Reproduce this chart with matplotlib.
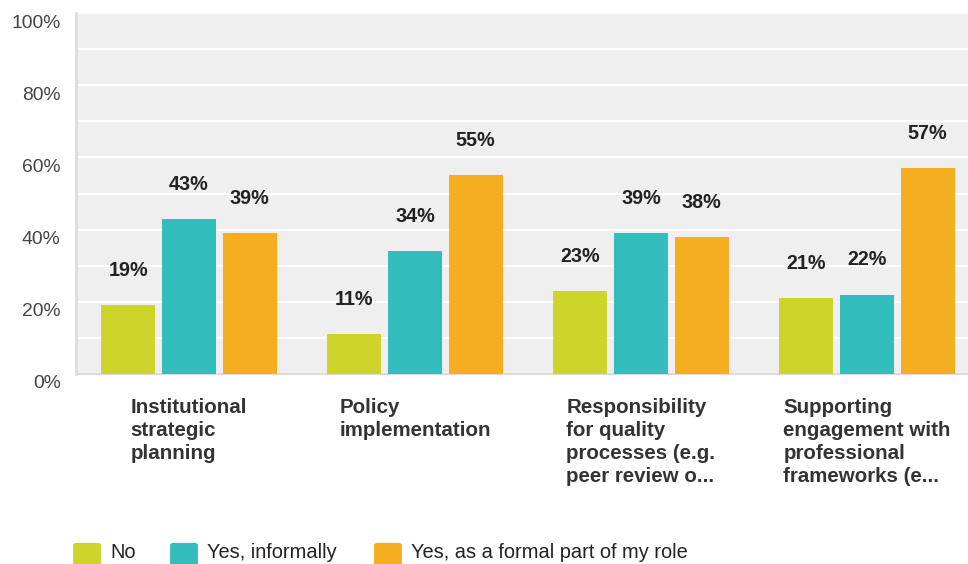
import matplotlib.pyplot as plt
import numpy as np
from matplotlib.patches import FancyBboxPatch
from matplotlib.ticker import MultipleLocator, FuncFormatter
import matplotlib.transforms as mtransforms

plt.rcParams['font.family'] = ['Liberation Sans', 'DejaVu Sans']

categories = [
    "Institutional\nstrategic\nplanning",
    "Policy\nimplementation",
    "Responsibility\nfor quality\nprocesses (e.g.\npeer review o...",
    "Supporting\nengagement with\nprofessional\nframeworks (e...",
]
series_names = ["No", "Yes, informally", "Yes, as a formal part of my role"]
no_vals = [19, 11, 23, 21]
informal_vals = [43, 34, 39, 22]
formal_vals = [39, 55, 38, 57]
colors = ["#cfd42a", "#33bdbd", "#f5ae1f"]

W, H = 968, 564
fig = plt.figure(figsize=(W / 100, H / 100), dpi=100)
fig.patch.set_facecolor("white")

# plot area runs a little past the right edge of the canvas
ax = fig.add_axes([76 / W, (H - 374) / H, 904 / W, 361 / H])
ax.set_facecolor("#efefef")

x = np.arange(len(categories))
bar_w = 0.239
step = 0.268
for k, vals in enumerate([no_vals, informal_vals, formal_vals]):
    pos = x + (k - 1) * step
    ax.bar(pos, vals, width=bar_w, color=colors[k], zorder=3)
    for px, v in zip(pos, vals):
        ax.annotate(f"{v}%", (px, v), xytext=(0, 25), textcoords="offset points",
                    ha="center", va="center", fontsize=14.2, fontweight="bold",
                    color="#222222", zorder=4)

ax.set_xlim(-0.5, len(categories) - 0.5)
ax.set_ylim(0, 100)
ax.yaxis.set_major_locator(MultipleLocator(20))
ax.yaxis.set_minor_locator(MultipleLocator(10))
ax.yaxis.set_major_formatter(FuncFormatter(lambda v, p: f"{v:.0f}%"))
ax.grid(True, axis="y", which="both", color="white", linewidth=1.5, zorder=1)
ax.set_axisbelow(True)

ax.tick_params(axis="y", which="both", length=0, pad=11, labelsize=13.9,
               labelcolor="#444444")
# value labels sit a bit below their grid line
offset = mtransforms.ScaledTranslation(0, -8 / 100, fig.dpi_scale_trans)
for lbl in ax.get_yticklabels():
    lbl.set_transform(lbl.get_transform() + offset)

ax.set_xticks(x)
ax.set_xticklabels(categories, fontsize=14.8, fontweight="bold", color="#333333",
                   ha="center", multialignment="left", linespacing=1.27)
ax.tick_params(axis="x", length=0, pad=17)

for side in ["top", "right"]:
    ax.spines[side].set_visible(False)
ax.spines["left"].set_color("#dcdcdc")
ax.spines["left"].set_linewidth(2)
ax.spines["bottom"].set_color("#dcdcdc")
ax.spines["bottom"].set_linewidth(1.5)

# legend along the bottom edge
legend_x = [73, 170, 374]
for lx, name, c in zip(legend_x, series_names, colors):
    sq = FancyBboxPatch(((lx + 2) / W, (H - 566) / H), 24 / W, 22 / H,
                        boxstyle="round,pad=0.002,rounding_size=0.004",
                        transform=fig.transFigure, facecolor=c, edgecolor="none")
    fig.patches.append(sq)
    fig.text((lx + 37) / W, (H - 553) / H, name, fontsize=14.4, color="#222222",
             ha="left", va="center")

fig.savefig("out.png", dpi=100)
